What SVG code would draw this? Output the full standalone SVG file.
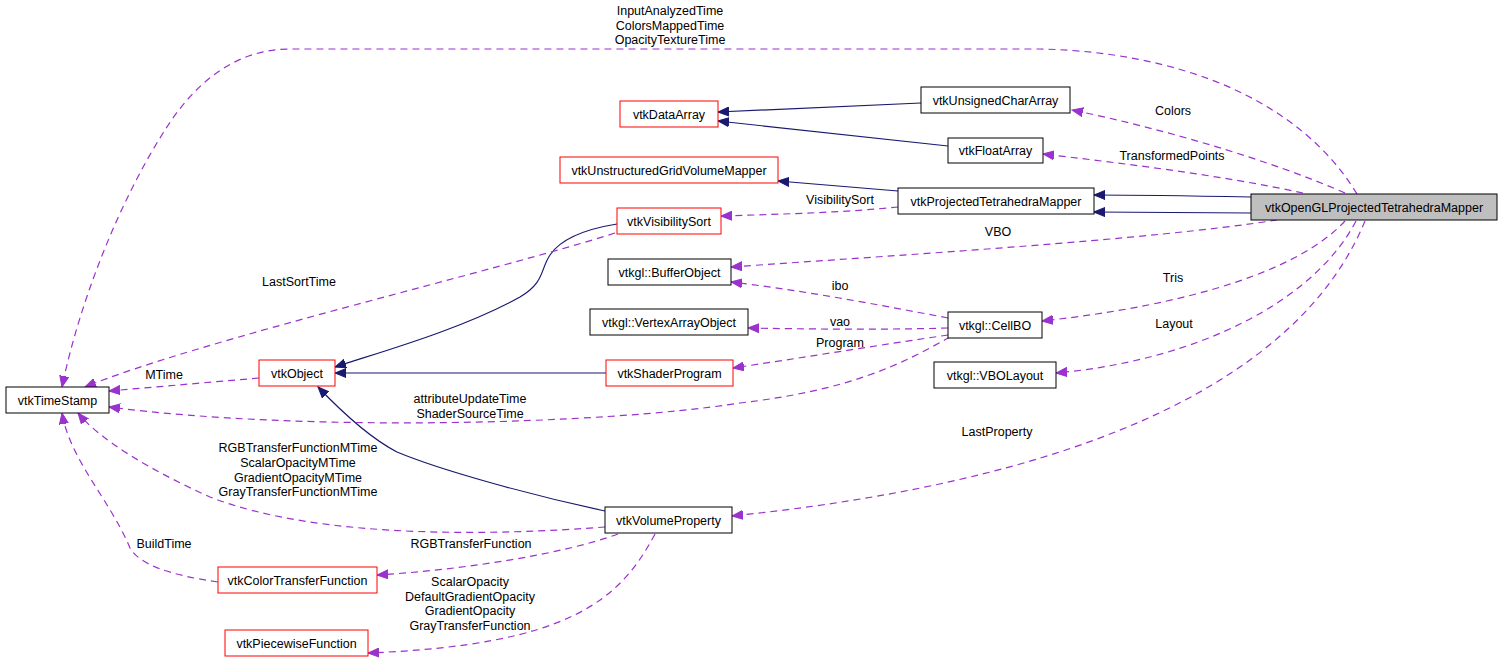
<svg xmlns="http://www.w3.org/2000/svg" width="1504" height="663" viewBox="0 0 1504 663">
<defs>
<style>
text{font-family:"Liberation Sans",Arial,sans-serif;font-size:12.5px;fill:#000;text-anchor:middle}
.box{fill:#fff;stroke:#000;stroke-width:1}
.red{fill:#fff;stroke:#ff0000;stroke-width:1}
.cur{fill:#bfbfbf;stroke:#000;stroke-width:1}
.inh{fill:none;stroke:#191970;stroke-width:1.2}
.use{fill:none;stroke:#9a32cd;stroke-width:1.2;stroke-dasharray:7,5}
</style>
<marker id="an" markerUnits="userSpaceOnUse" markerWidth="12" markerHeight="10" refX="11" refY="5" orient="auto"><path d="M0,0.5 L11,5 L0,9.5 Z" fill="#191970" stroke="#191970"/></marker>
<marker id="ap" markerUnits="userSpaceOnUse" markerWidth="12" markerHeight="10" refX="11" refY="5" orient="auto"><path d="M0,0.5 L11,5 L0,9.5 Z" fill="#9a32cd" stroke="#9a32cd"/></marker>
</defs>
<rect width="1504" height="663" fill="#fff"/>
<g id="connectors">
<path class="inh" marker-end="url(#an)" d="M921,103 L718,112"/>
<path class="inh" marker-end="url(#an)" d="M948,146 L718,121"/>
<path class="inh" marker-end="url(#an)" d="M898,191 L778,181"/>
<path class="inh" marker-end="url(#an)" d="M1251,197 C1200,196 1140,195 1094,195"/>
<path class="inh" marker-end="url(#an)" d="M1251,213 L1094,212"/>
<path class="inh" marker-end="url(#an)" d="M617,224 C580,230 560,240 550,255 C540,270 545,282 520,297 C460,330 380,352 335,367"/>
<path class="inh" marker-end="url(#an)" d="M606,373 L335,373"/>
<path class="inh" marker-end="url(#an)" d="M605,511 C530,495 440,470 397,452 C370,438 340,410 318,387"/>
<path class="use" marker-end="url(#ap)" d="M1357,194 C1300,100 1180,52 1040,49 L290,49 C230,49 190,90 165,130 C120,200 80,300 62,387"/>
<path class="use" marker-end="url(#ap)" d="M1345,193 C1270,160 1160,128 1072,110"/>
<path class="use" marker-end="url(#ap)" d="M1303,193 C1220,175 1120,163 1043,154"/>
<path class="use" marker-end="url(#ap)" d="M898,207 C850,212 790,214 721,216"/>
<path class="use" marker-end="url(#ap)" d="M1277,220 C1150,240 900,255 731,267"/>
<path class="use" marker-end="url(#ap)" d="M1345,221 C1300,270 1190,305 1042,321"/>
<path class="use" marker-end="url(#ap)" d="M1356,221 C1315,300 1200,360 1056,373"/>
<path class="use" marker-end="url(#ap)" d="M1365,221 C1320,330 1180,470 732,516"/>
<path class="use" marker-end="url(#ap)" d="M948,318 C880,305 800,290 731,282"/>
<path class="use" marker-end="url(#ap)" d="M948,328 C880,330 800,329 748,328"/>
<path class="use" marker-end="url(#ap)" d="M948,335 C880,345 800,358 733,368"/>
<path class="use" marker-end="url(#ap)" d="M950,337 C900,365 850,390 740,403 C600,425 300,432 109,407"/>
<path class="use" marker-end="url(#ap)" d="M615,233 C500,270 200,340 85,387"/>
<path class="use" marker-end="url(#ap)" d="M259,378 L109,391"/>
<path class="use" marker-end="url(#ap)" d="M605,527 C500,535 320,540 210,497 C150,470 100,440 78,413"/>
<path class="use" marker-end="url(#ap)" d="M218,582 C170,575 140,565 130,548 C110,500 70,460 62,413"/>
<path class="use" marker-end="url(#ap)" d="M618,534 C560,555 460,570 377,575"/>
<path class="use" marker-end="url(#ap)" d="M655,534 C620,600 570,645 368,653"/>
<text x="670" y="15">InputAnalyzedTime</text>
<text x="670" y="30">ColorsMappedTime</text>
<text x="670" y="44">OpacityTextureTime</text>
<text x="1173" y="115">Colors</text>
<text x="1172" y="160">TransformedPoints</text>
<text x="840" y="204">VisibilitySort</text>
<text x="998" y="236">VBO</text>
<text x="299" y="286">LastSortTime</text>
<text x="840" y="290">ibo</text>
<text x="1173" y="282">Tris</text>
<text x="840" y="326">vao</text>
<text x="1174" y="328">Layout</text>
<text x="840" y="347">Program</text>
<text x="164" y="379">MTime</text>
<text x="470" y="403">attributeUpdateTime</text>
<text x="470" y="418">ShaderSourceTime</text>
<text x="997" y="436">LastProperty</text>
<text x="298" y="452">RGBTransferFunctionMTime</text>
<text x="298" y="467">ScalarOpacityMTime</text>
<text x="298" y="482">GradientOpacityMTime</text>
<text x="298" y="496">GrayTransferFunctionMTime</text>
<text x="164" y="548">BuildTime</text>
<text x="471" y="548">RGBTransferFunction</text>
<text x="470" y="586">ScalarOpacity</text>
<text x="470" y="601">DefaultGradientOpacity</text>
<text x="470" y="615">GradientOpacity</text>
<text x="470" y="630">GrayTransferFunction</text>
</g>
<g id="opengl"><rect class="cur" x="1251" y="194" width="246" height="26"/><text x="1374" y="211.5">vtkOpenGLProjectedTetrahedraMapper</text></g>
<g id="uchar"><rect class="box" x="921" y="87" width="149" height="26"/><text x="995.5" y="104.5">vtkUnsignedCharArray</text></g>
<g id="float"><rect class="box" x="948" y="138" width="95" height="25"/><text x="995.5" y="155">vtkFloatArray</text></g>
<g id="ptm"><rect class="box" x="898" y="188" width="196" height="26"/><text x="996" y="205.5">vtkProjectedTetrahedraMapper</text></g>
<g id="dataarray"><rect class="red" x="620" y="101" width="98" height="26"/><text x="669" y="118.5">vtkDataArray</text></g>
<g id="ugvm"><rect class="red" x="560" y="157" width="218" height="26"/><text x="669" y="174.5">vtkUnstructuredGridVolumeMapper</text></g>
<g id="vissort"><rect class="red" x="617" y="208" width="104" height="26"/><text x="669" y="225.5">vtkVisibilitySort</text></g>
<g id="bufobj"><rect class="box" x="608" y="259" width="123" height="26"/><text x="669.5" y="276.5">vtkgl::BufferObject</text></g>
<g id="vaobj"><rect class="box" x="590" y="309" width="158" height="26"/><text x="669" y="326.5">vtkgl::VertexArrayObject</text></g>
<g id="shader"><rect class="red" x="606" y="360" width="127" height="26"/><text x="669.5" y="377.5">vtkShaderProgram</text></g>
<g id="object"><rect class="red" x="259" y="360" width="76" height="26"/><text x="297" y="377.5">vtkObject</text></g>
<g id="timestamp"><rect class="box" x="6" y="387" width="103" height="26"/><text x="57.5" y="404.5">vtkTimeStamp</text></g>
<g id="cellbo"><rect class="box" x="948" y="312" width="94" height="26"/><text x="995" y="329.5">vtkgl::CellBO</text></g>
<g id="vbolayout"><rect class="box" x="934" y="362" width="122" height="26"/><text x="995" y="379.5">vtkgl::VBOLayout</text></g>
<g id="volprop"><rect class="box" x="605" y="507" width="127" height="26"/><text x="668.5" y="524.5">vtkVolumeProperty</text></g>
<g id="ctf"><rect class="red" x="218" y="567" width="159" height="26"/><text x="297.5" y="584.5">vtkColorTransferFunction</text></g>
<g id="pwf"><rect class="red" x="225" y="630" width="143" height="26"/><text x="296.5" y="647.5">vtkPiecewiseFunction</text></g>
</svg>
